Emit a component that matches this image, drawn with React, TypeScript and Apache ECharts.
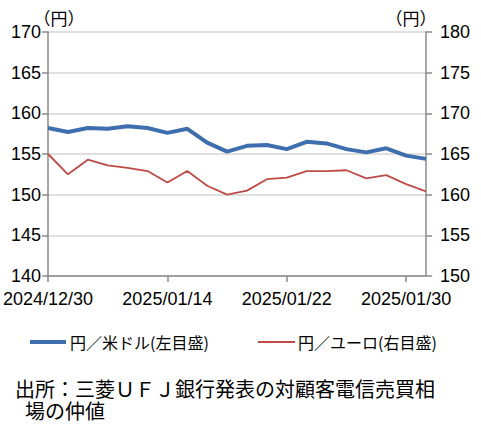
import React, { useEffect, useRef } from "react";
import * as echarts from "echarts";

const dates = [
  "2024/12/30", "2025/01/06", "2025/01/07", "2025/01/08", "2025/01/09",
  "2025/01/10", "2025/01/14", "2025/01/15", "2025/01/16", "2025/01/17",
  "2025/01/20", "2025/01/21", "2025/01/22", "2025/01/23", "2025/01/24",
  "2025/01/27", "2025/01/28", "2025/01/29", "2025/01/30", "2025/01/31",
];
const usdJpy = [
  158.2, 157.7, 158.2, 158.1, 158.4, 158.2, 157.6, 158.1, 156.4, 155.3,
  156.0, 156.1, 155.6, 156.5, 156.3, 155.6, 155.2, 155.7, 154.8, 154.4,
];
const eurJpy = [
  165.0, 162.5, 164.3, 163.6, 163.3, 162.9, 161.5, 162.9, 161.1, 160.0,
  160.5, 161.9, 162.1, 162.9, 162.9, 163.0, 162.0, 162.4, 161.3, 160.4,
];
const seriesNames = ["円／米ドル(左目盛)", "円／ユーロ(右目盛)"];
const unitLabel = "（円）";
const sourceLine1 = "出所：三菱ＵＦＪ銀行発表の対顧客電信売買相";
const sourceLine2 = "場の仲値";

const BLUE = "#3F6EAE";
const RED = "#BE4B48";
const AXIS = "#8a8a8a";
const NUM_FONT = "'Liberation Sans', Arial, sans-serif";
const JP_FONT = "'Noto Sans CJK JP', sans-serif";
const SRC_FONT = "'Liberation Sans', 'Noto Sans CJK JP', sans-serif";

export default function App() {
  const ref = useRef<HTMLDivElement>(null);
  useEffect(() => {
    if (!ref.current) return;
    const chart = echarts.init(ref.current, undefined, { renderer: "svg" });
    const legendText = (x: number, text: string) => ({
      type: "text",
      x,
      y: 342,
      style: {
        text,
        fontSize: 16,
        fontFamily: JP_FONT,
        fill: "#000",
        align: "left",
        verticalAlign: "middle",
      },
    });
    const srcText = (x: number, y: number, text: string) => ({
      type: "text",
      x,
      y,
      style: {
        text,
        fontSize: 20,
        fontFamily: SRC_FONT,
        fill: "#000",
        align: "left",
        verticalAlign: "middle",
      },
    });
    chart.setOption({
      animation: false,
      backgroundColor: "#ffffff",
      grid: { left: 42, right: 55, top: 32, bottom: 148, containLabel: false },
      xAxis: {
        type: "category",
        data: dates,
        boundaryGap: false,
        axisLine: { lineStyle: { color: AXIS, width: 1.5 } },
        axisTick: { show: true, interval: 5, length: 6, lineStyle: { color: AXIS, width: 1.5 } },
        axisLabel: {
          interval: 5,
          margin: 14,
          color: "#000",
          fontSize: 18,
          fontFamily: NUM_FONT,
        },
        splitLine: { show: false },
      },
      yAxis: [
        {
          type: "value",
          min: 140,
          max: 170,
          interval: 5,
          axisLine: { show: true, lineStyle: { color: AXIS, width: 1.5 } },
          axisTick: { show: true, length: 6, lineStyle: { color: AXIS, width: 1.5 } },
          axisLabel: { margin: 7, color: "#000", fontSize: 18, fontFamily: NUM_FONT },
          splitLine: { show: true, lineStyle: { color: "#d4d4d4", width: 1.5 } },
        },
        {
          type: "value",
          min: 150,
          max: 180,
          interval: 5,
          axisLine: { show: true, lineStyle: { color: AXIS, width: 1.5 } },
          axisTick: { show: true, length: 6, lineStyle: { color: AXIS, width: 1.5 } },
          axisLabel: { margin: 14, color: "#000", fontSize: 18, fontFamily: NUM_FONT },
          splitLine: { show: false },
        },
      ],
      series: [
        {
          name: seriesNames[0],
          type: "line",
          yAxisIndex: 0,
          data: usdJpy,
          symbol: "none",
          lineStyle: { color: BLUE, width: 4 },
          itemStyle: { color: BLUE },
          z: 3,
        },
        {
          name: seriesNames[1],
          type: "line",
          yAxisIndex: 1,
          data: eurJpy,
          symbol: "none",
          lineStyle: { color: RED, width: 1.8 },
          itemStyle: { color: RED },
          z: 2,
        },
      ],
      graphic: [
        {
          type: "text",
          x: 59,
          y: 17,
          style: {
            text: unitLabel,
            fontSize: 17,
            fontFamily: JP_FONT,
            fill: "#000",
            align: "center",
            verticalAlign: "middle",
          },
        },
        {
          type: "text",
          x: 411,
          y: 17,
          style: {
            text: unitLabel,
            fontSize: 17,
            fontFamily: JP_FONT,
            fill: "#000",
            align: "center",
            verticalAlign: "middle",
          },
        },
        {
          type: "line",
          shape: { x1: 30, y1: 342, x2: 66, y2: 342 },
          style: { stroke: BLUE, lineWidth: 4 },
        },
        legendText(70, seriesNames[0]),
        {
          type: "line",
          shape: { x1: 258, y1: 342, x2: 295, y2: 342 },
          style: { stroke: RED, lineWidth: 2 },
        },
        legendText(298, seriesNames[1]),
        srcText(15, 389.5, sourceLine1),
        srcText(25, 412, sourceLine2),
      ],
    });
    return () => chart.dispose();
  }, []);
  return <div ref={ref} style={{ width: 481, height: 424, position: "absolute", left: 0, top: 0 }} />;
}
